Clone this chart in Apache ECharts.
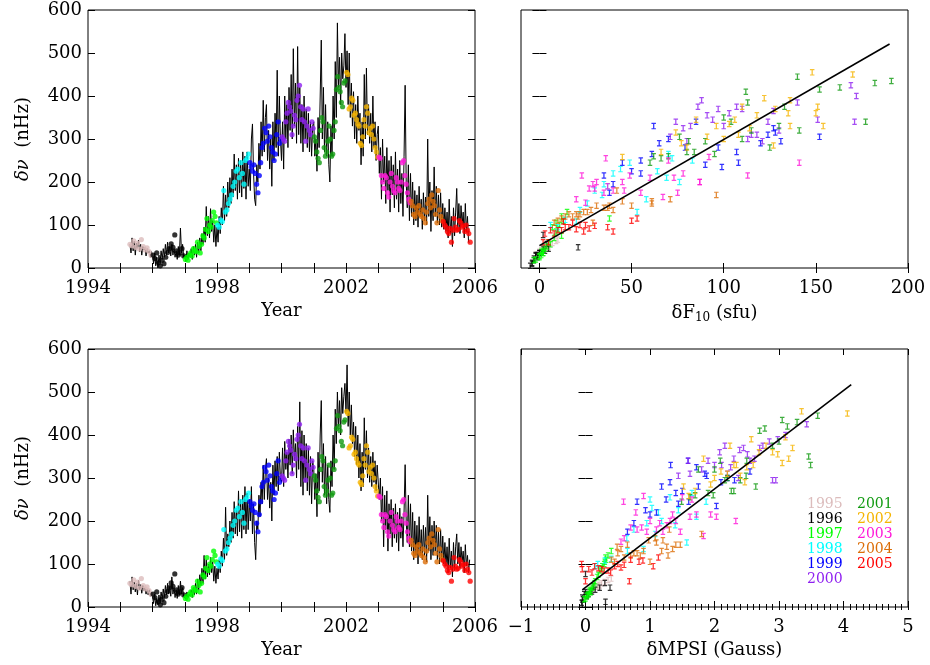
<!DOCTYPE html>
<html>
<head>
<meta charset="utf-8">
<script src="https://cdn.jsdelivr.net/npm/echarts@6/dist/echarts.min.js"></script>
<style>
  html, body { margin: 0; padding: 0; background: #fff; }
  #chart { width: 930px; height: 665px; }
</style>
</head>
<body>
<div id="chart"></div>
<script>
// years and their colours
const years = ['1995', '1996', '1997', '1998', '1999', '2000', '2001', '2002', '2003', '2004', '2005']
const yearColors = ['#dcbcbc', '#000000', '#00ff00', '#00ffff', '#0000ff', '#8f20f0',
  '#109a10', '#f5b400', '#ff18d8', '#dc6e08', '#ff0000']

// time span covered by each year's measurements
const dotSpans = [[1995.30, 1995.95], [1996.02, 1996.97], [1997.02, 1997.98], [1998.02, 1998.98],
  [1999.02, 1999.98], [2000.02, 2000.98], [2001.02, 2001.97], [2002.02, 2002.98],
  [2003.02, 2003.98], [2004.02, 2004.98], [2005.02, 2005.85]]

// frequency shift (nHz), one row per year
const dnu = [
  [55, 52, 63, 48, 58, 44, 66, 50, 42, 47, 38, 30],
  [30, 22, 35, 12, 5, 18, 10, 25, 36, 45, 56, 48, 77, 40, 30, 35, 45, 28],
  [20, 25, 18, 30, 35, 28, 45, 40, 38, 60, 50, 35, 55, 75, 70, 90, 115, 85, 100, 95, 110, 130, 120, 105],
  [100, 95, 112, 108, 180, 130, 135, 150, 160, 170, 190, 200, 225, 230, 210, 245, 220, 195, 250, 255, 265],
  [245, 235, 225, 240, 220, 195, 175, 215, 245, 280, 290, 325, 315, 295, 330, 305, 280, 270, 250, 265, 310, 340, 290, 300],
  [305, 300, 295, 340, 360, 385, 375, 365, 310, 330, 355, 345, 390, 400, 425, 375, 345, 370, 340, 295, 330, 370, 320, 310, 340, 325],
  [305, 295, 270, 255, 245, 320, 350, 340, 280, 260, 270, 295, 330, 300, 260, 265, 320, 340, 415, 445, 420, 410, 385, 375, 430, 435],
  [455, 450, 370, 375, 395, 390, 355, 360, 345, 335, 330, 290, 285, 305, 345, 330, 375, 360, 315, 325, 310, 330, 300, 280, 270, 258],
  [258, 255, 215, 200, 185, 215, 210, 175, 165, 200, 220, 190, 180, 175, 210, 200, 185, 180, 200, 245, 250, 215, 195, 175, 160, 152],
  [155, 145, 125, 120, 140, 130, 145, 125, 120, 135, 115, 105, 130, 150, 160, 140, 170, 155, 145, 125, 105, 180, 135, 120, 110],
  [108, 100, 95, 85, 80, 92, 60, 88, 115, 95, 88, 90, 110, 105, 95, 98, 85, 100, 88, 80, 60]
]

// delta F10.7 (sfu) for the same measurements
const dF10 = [
  [6, 4, 9, 3, 7, 2, 10, 5, 1, 4, 0, -2],
  [-2, -3, 0, -4, -5, -3, -4, -1, 1, 2, 4, 21, 2, 3, -1, 0, 5, -2],
  [-2, 0, -3, 1, 2, 0, 3, 2, 1, 5, 4, 2, 6, 12, 8, 10, 38, 9, 11, 7, 13, 15, 12, 9],
  [6, 10, 14, 20, 30, 53, 22, 26, 58, 34, 37, 76, 64, 44, 69, 49, 40, 35, 83, 72, 70],
  [45, 99, 50, 90, 55, 40, 38, 35, 108, 97, 120, 127, 128, 131, 62, 152, 79, 107, 55, 61, 124, 85, 65, 70],
  [71, 113, 121, 74, 103, 140, 86, 127, 118, 82, 91, 94, 88, 172, 169, 107, 151, 97, 124, 80, 100, 110, 130, 115, 171, 78],
  [76, 90, 84, 66, 60, 141, 100, 104, 125, 70, 80, 81, 130, 110, 62, 95, 115, 177, 152, 140, 163, 112, 113, 133, 182, 191],
  [148, 170, 128, 110, 122, 136, 118, 150, 85, 103, 154, 77, 127, 91, 106, 136, 151, 135, 74, 114, 108, 96, 100, 80, 66, 45],
  [92, 36, 49, 31, 27, 113, 60, 55, 67, 87, 78, 37, 46, 75, 73, 87, 30, 40, 45, 141, 70, 23, 29, 35, 20, 25],
  [45, 31, 16, 21, 37, 26, 50, 20, 18, 40, 12, 29, 24, 61, 71, 35, 96, 61, 38, 22, 8, 42, 28, 14, 10],
  [13, 22, 16, 24, 8, 27, 5, 10, 53, 37, 6, 20, 50, 18, 14, 30, 40, 25, 12, 3, 2]
]

// delta MPSI (Gauss) for the same measurements
const dMPSI = [
  [0.25, 0.2, 0.35, 0.15, 0.3, 0.12, 0.4, 0.22, 0.1, 0.18, 0.08, 0.02],
  [-0.02, -0.05, 0.0, 0.31, -0.05, -0.04, -0.06, 0.02, 0.1, 0.38, 0.3, 0.12, 0.0, 0.15, 0.05, 0.08, 0.22, 0.02],
  [0.0, 0.02, -0.02, 0.05, 0.08, 0.03, 0.1, 0.08, 0.06, 0.15, 0.12, 0.07, 0.14, 0.2, 0.18, 0.25, 0.31, 0.22, 0.29, 0.26, 0.32, 0.4, 0.35, 0.3],
  [0.19, 0.15, 0.4, 0.3, 0.75, 0.65, 0.9, 1.57, 0.64, 1.08, 1.39, 1.18, 1.44, 1.03, 1.72, 1.87, 1.13, 0.95, 1.0, 1.31, 1.65],
  [0.8, 2.03, 0.93, 1.44, 1.1, 0.75, 0.65, 1.0, 1.6, 1.75, 1.31, 1.72, 2.55, 2.31, 1.32, 1.88, 1.18, 1.5, 1.25, 1.4, 1.85, 1.59, 2.1, 2.2],
  [1.44, 2.37, 2.9, 1.59, 2.08, 2.85, 2.16, 2.39, 1.62, 2.11, 2.51, 2.62, 2.98, 3.1, 3.43, 2.75, 2.3, 2.7, 1.9, 2.95, 2.0, 2.45, 1.8, 2.2, 2.55, 2.25],
  [2.49, 2.16, 2.26, 1.62, 1.49, 1.75, 3.46, 2.09, 2.64, 1.98, 2.3, 2.4, 3.49, 2.2, 1.7, 1.9, 2.0, 2.5, 2.78, 3.6, 3.13, 2.7, 3.0, 2.9, 3.28, 3.05],
  [3.35, 4.06, 3.21, 2.24, 3.1, 2.57, 2.98, 2.69, 3.15, 3.05, 2.34, 2.47, 1.94, 2.4, 1.83, 2.6, 2.8, 2.9, 2.1, 2.5, 2.2, 2.3, 2.0, 1.52, 1.7, 1.6],
  [0.9, 1.5, 1.94, 1.0, 0.87, 1.72, 1.62, 1.47, 1.83, 1.31, 0.78, 1.26, 1.1, 1.2, 2.03, 2.33, 0.7, 0.8, 1.4, 0.59, 1.65, 1.35, 1.15, 0.95, 0.6, 0.55],
  [0.98, 0.65, 0.8, 1.28, 1.26, 1.18, 1.47, 0.5, 0.7, 1.35, 0.6, 1.0, 0.9, 1.1, 1.08, 0.49, 1.8, 1.2, 1.4, 0.75, 0.45, 1.3, 0.55, 0.85, 0.4],
  [0.89, -0.06, 0.14, 0.29, 0.39, 0.55, 0.68, 0.05, 1.13, 1.05, -0.05, 0.2, 0.7, 0.83, 0.45, 0.6, 0.35, 0.5, 0.25, 0.1, 0.0]
]

// proxy curves (nHz) sampled every 1/30 yr from lineStart
const lineStart = 1995.30
const lineStep = 1 / 30
const lineF10 = [
  55, 35, 70, 40, 62, 30, 58, 45, 65, 38, 55, 30, 50, 42, 48, 28, 45, 35, 40, 25, 38,
  30, 10, 35, 5, 25, 0, 30, 12, 40, 20, 45, 25, 55, 30, 60, 35, 50, 28, 55, 30, 45, 25, 40, 20, 50, 30, 93, 35, 55, 25,
  30, 15, 40, 20, 35, 25, 45, 20, 50, 30, 55, 25, 60, 35, 70, 40, 80, 55, 95, 60, 143, 75, 120, 70, 138, 85, 110, 60, 100, 50,
  95, 60, 120, 80, 140, 100, 190, 110, 170, 120, 200, 140, 210, 150, 230, 165, 265, 180, 240, 160, 255, 175, 250, 165, 270, 185, 260, 160, 270, 190,
  230, 180, 300, 335, 220, 160, 145, 240, 200, 290, 230, 340, 260, 390, 270, 350, 380, 250, 320, 230, 300, 190, 340, 250, 360, 280, 460, 260, 400, 300,
  250, 340, 230, 400, 300, 380, 280, 420, 320, 450, 300, 510, 330, 430, 290, 515, 310, 420, 290, 380, 270, 400, 300, 370, 280, 360, 270, 340, 260, 330,
  340, 260, 300, 225, 350, 280, 400, 530, 300, 420, 270, 380, 260, 340, 240, 200, 330, 260, 400, 300, 480, 350, 570, 420, 490, 380, 500, 440, 470, 545,
  420, 505, 380, 500, 350, 430, 330, 410, 300, 380, 290, 400, 320, 360, 240, 340, 260, 450, 300, 465, 310, 380, 290, 360, 270, 400, 280, 340, 250, 310,
  330, 220, 280, 160, 300, 200, 260, 150, 280, 180, 250, 130, 260, 170, 240, 140, 270, 160, 230, 130, 250, 150, 220, 120, 260, 425, 200, 140, 240, 110,
  220, 120, 200, 100, 180, 110, 170, 95, 190, 120, 160, 90, 175, 110, 165, 100, 300, 120, 200, 85, 180, 110, 235, 120, 190, 105, 170, 100, 175, 95,
  150, 90, 140, 85, 130, 70, 160, 80, 120, 50, 140, 75, 130, 185, 90, 150, 80, 145, 100, 130, 70, 150, 85, 120, 60, 60
]
const lineMPSI = [
  60, 30, 70, 40, 58, 35, 55, 28, 62, 40, 52, 32, 50, 38, 45, 30, 42, 28, 40, 25, 35,
  25, 8, 30, 3, 20, 5, 28, 10, 35, 18, 42, 22, 50, 28, 55, 30, 48, 25, 70, 30, 45, 22, 40, 20, 50, 28, 60, 30, 45, 25,
  28, 18, 35, 22, 30, 25, 40, 22, 45, 28, 55, 30, 65, 40, 75, 50, 90, 55, 120, 65, 110, 70, 100, 75, 115, 80, 105, 60, 95, 55,
  90, 65, 110, 80, 130, 95, 160, 110, 232, 120, 170, 140, 200, 150, 220, 160, 245, 170, 230, 165, 270, 175, 250, 160, 260, 180, 280, 170, 265, 180,
  250, 200, 280, 170, 240, 150, 110, 200, 180, 260, 210, 290, 240, 330, 250, 320, 345, 250, 300, 230, 290, 200, 330, 260, 340, 280, 350, 270, 360, 300,
  290, 370, 280, 385, 320, 360, 300, 390, 330, 400, 310, 412, 340, 380, 300, 420, 320, 477, 280, 410, 260, 400, 290, 380, 270, 370, 260, 350, 240, 340,
  320, 250, 310, 210, 360, 270, 400, 480, 290, 380, 260, 350, 240, 330, 250, 220, 340, 280, 400, 320, 460, 380, 500, 420, 480, 400, 510, 450, 490, 520,
  450, 563, 420, 500, 400, 470, 380, 430, 350, 420, 330, 400, 300, 380, 270, 360, 280, 440, 320, 410, 300, 370, 290, 350, 280, 360, 290, 340, 270, 330,
  330, 250, 300, 200, 280, 140, 260, 180, 270, 130, 240, 170, 250, 140, 230, 160, 240, 150, 220, 130, 230, 160, 210, 140, 220, 331, 200, 150, 260, 140,
  240, 130, 220, 110, 200, 120, 190, 100, 210, 120, 180, 110, 190, 120, 185, 105, 260, 130, 210, 110, 190, 120, 200, 130, 190, 110, 175, 100, 180, 105,
  165, 100, 150, 95, 140, 80, 160, 90, 130, 70, 150, 85, 140, 170, 100, 150, 90, 140, 105, 130, 80, 145, 95, 120, 80, 110
]

// linear fits
const fitF10X = [0, 190]
const fitF10Y = [52, 521]
const fitMPSIX = [-0.05, 4.12]
const fitMPSIY = [40, 517]

// tick label positions
const yearTicks = [1994, 1998, 2002, 2006]
const f10Ticks = [0, 50, 100, 150, 200]
const mpsiTicks = [-1, 0, 1, 2, 3, 4, 5]

const FONT = 'DejaVu Serif'
const ERRBAR = 'path://M0,0H5V1.3H3.2V5.7H5V7H0V5.7H1.8V1.3H0Z'

const chart = echarts.init(document.getElementById('chart'))

const grids = [
  { left: 88, top: 10, width: 387, height: 258 },
  { left: 521, top: 10, width: 387, height: 258 },
  { left: 88, top: 349, width: 387, height: 258 },
  { left: 521, top: 349, width: 387, height: 258 }
].map(g => Object.assign(g, { show: true, borderColor: '#000', borderWidth: 1 }))

function txt(size) {
  return { color: '#000', fontFamily: FONT, fontSize: size || 18 }
}
function tick(len) {
  return { show: true, inside: true, length: len, lineStyle: { color: '#000', width: 1 } }
}

// scale settings of each kind of x axis
const xScales = {
  time: { min: 1994, max: 2006, interval: 1 },
  f10: { min: -10, max: 200 },
  mpsi: { min: -1, max: 5, interval: 0.1 },
  mpsiMajor: { min: -1, max: 5, interval: 1 }
}
const xLabelCfg = {
  time: { customValues: yearTicks, formatter: v => String(v) },
  f10: { customValues: f10Ticks, formatter: v => String(v) },
  mpsi: { customValues: mpsiTicks, formatter: v => String(Math.round(v)).replace('-', '\u2212') }
}

const xAxis = []
const yAxis = []
const xMain = []
const yMain = []

// labels live on their own axis; ticks live on label-free axes, all pinned to the frame
function addX(g, kind, name, nameRich) {
  xMain[g] = xAxis.length
  xAxis.push(Object.assign({
    gridIndex: g, position: 'bottom', offset: 0, type: 'value',
    axisLine: { show: false }, axisTick: { show: false }, splitLine: { show: false },
    axisLabel: Object.assign(txt(), { margin: 11 }, xLabelCfg[kind]),
    name: name, nameLocation: 'middle', nameGap: 34,
    nameTextStyle: Object.assign(txt(), nameRich ? { rich: nameRich } : {})
  }, xScales[kind]))
  const tickKinds = kind === 'mpsi' ? [['mpsi', 3], ['mpsiMajor', 6]] : [[kind, 5]]
  tickKinds.forEach(([k, len]) => {
    ;['bottom', 'top'].forEach(pos => {
      const t = tick(len)
      if (k === 'f10') t.customValues = f10Ticks
      xAxis.push(Object.assign({
        gridIndex: g, position: pos, offset: 0, type: 'value',
        axisLine: { show: false }, splitLine: { show: false }, axisLabel: { show: false },
        axisTick: t
      }, xScales[k]))
    })
  })
}

function addY(g, showLabels) {
  yMain[g] = yAxis.length
  yAxis.push({
    gridIndex: g, position: 'left', offset: 0, type: 'value', min: 0, max: 600, interval: 100,
    axisLine: { show: false }, axisTick: { show: false }, splitLine: { show: false },
    axisLabel: showLabels ? Object.assign(txt(), { margin: 6 }) : { show: false },
    name: showLabels ? '{i|δν}  (nHz)' : '',
    nameLocation: 'middle', nameGap: 56,
    nameTextStyle: Object.assign(txt(), { rich: { i: Object.assign(txt(), { fontStyle: 'italic' }) } })
  })
  ;['left', 'right'].forEach(pos => {
    yAxis.push({
      gridIndex: g, position: pos, offset: 0, type: 'value', min: 0, max: 600, interval: 100,
      axisLine: { show: false }, splitLine: { show: false }, axisLabel: { show: false },
      axisTick: tick(7)
    })
  })
}

const subRich = {
  s: { color: '#000', fontFamily: FONT, fontSize: 12, padding: [10, 0, 0, 0] }
}

addX(0, 'time', 'Year')
addX(1, 'f10', 'δF{s|10} (sfu)', subRich)
addX(2, 'time', 'Year')
addX(3, 'mpsi', 'δMPSI (Gauss)')
addY(0, true)
addY(1, false)
addY(2, true)
addY(3, false)

const series = []

// proxy curves
series.push({
  type: 'line', xAxisIndex: xMain[0], yAxisIndex: yMain[0], silent: true, showSymbol: false, z: 1,
  lineStyle: { color: '#000', width: 1 }, data: lineF10.map((v, i) => [lineStart + i * lineStep, v])
})
series.push({
  type: 'line', xAxisIndex: xMain[2], yAxisIndex: yMain[2], silent: true, showSymbol: false, z: 1,
  lineStyle: { color: '#000', width: 1 }, data: lineMPSI.map((v, i) => [lineStart + i * lineStep, v])
})

years.forEach((yr, k) => {
  const [t0, t1] = dotSpans[k]
  const n = dnu[k].length
  const dots = dnu[k].map((v, i) => [t0 + (t1 - t0) * i / (n - 1), v])
  const color = yearColors[k]
  ;[0, 2].forEach(g => {
    series.push({
      name: yr, type: 'scatter', xAxisIndex: xMain[g], yAxisIndex: yMain[g], z: 3,
      symbol: 'circle', symbolSize: 5.2, itemStyle: { color: color }, data: dots
    })
  })
  series.push({
    name: yr, type: 'scatter', xAxisIndex: xMain[1], yAxisIndex: yMain[1], z: 3,
    symbol: ERRBAR, symbolSize: [4.5, 6.5], symbolKeepAspect: false,
    itemStyle: { color: color }, data: dnu[k].map((v, i) => [dF10[k][i], v])
  })
  series.push({
    name: yr, type: 'scatter', xAxisIndex: xMain[3], yAxisIndex: yMain[3], z: 3,
    symbol: ERRBAR, symbolSize: [4.5, 6.5], symbolKeepAspect: false,
    itemStyle: { color: color }, data: dnu[k].map((v, i) => [dMPSI[k][i], v])
  })
})

// fitted lines
series.push({
  type: 'line', xAxisIndex: xMain[1], yAxisIndex: yMain[1], silent: true, showSymbol: false, z: 4,
  lineStyle: { color: '#000', width: 1.6 }, data: fitF10X.map((x, i) => [x, fitF10Y[i]])
})
series.push({
  type: 'line', xAxisIndex: xMain[3], yAxisIndex: yMain[3], silent: true, showSymbol: false, z: 4,
  lineStyle: { color: '#000', width: 1.6 }, data: fitMPSIX.map((x, i) => [x, fitMPSIY[i]])
})

function legendCol(names, left) {
  return {
    orient: 'vertical', left: left, top: 497, icon: 'none', itemWidth: 0, itemHeight: 15,
    itemGap: 0, selectedMode: false, padding: 0,
    textStyle: { fontFamily: FONT, fontSize: 14, lineHeight: 15, padding: [0, 0, 0, -5] },
    data: names.map(nm => ({ name: nm, textStyle: { color: yearColors[years.indexOf(nm)] } }))
  }
}

chart.setOption({
  animation: false,
  backgroundColor: '#fff',
  grid: grids,
  xAxis: xAxis,
  yAxis: yAxis,
  legend: [
    legendCol(years.slice(0, 6), 807),
    legendCol(years.slice(6), 857)
  ],
  series: series
})
</script>
</body>
</html>
